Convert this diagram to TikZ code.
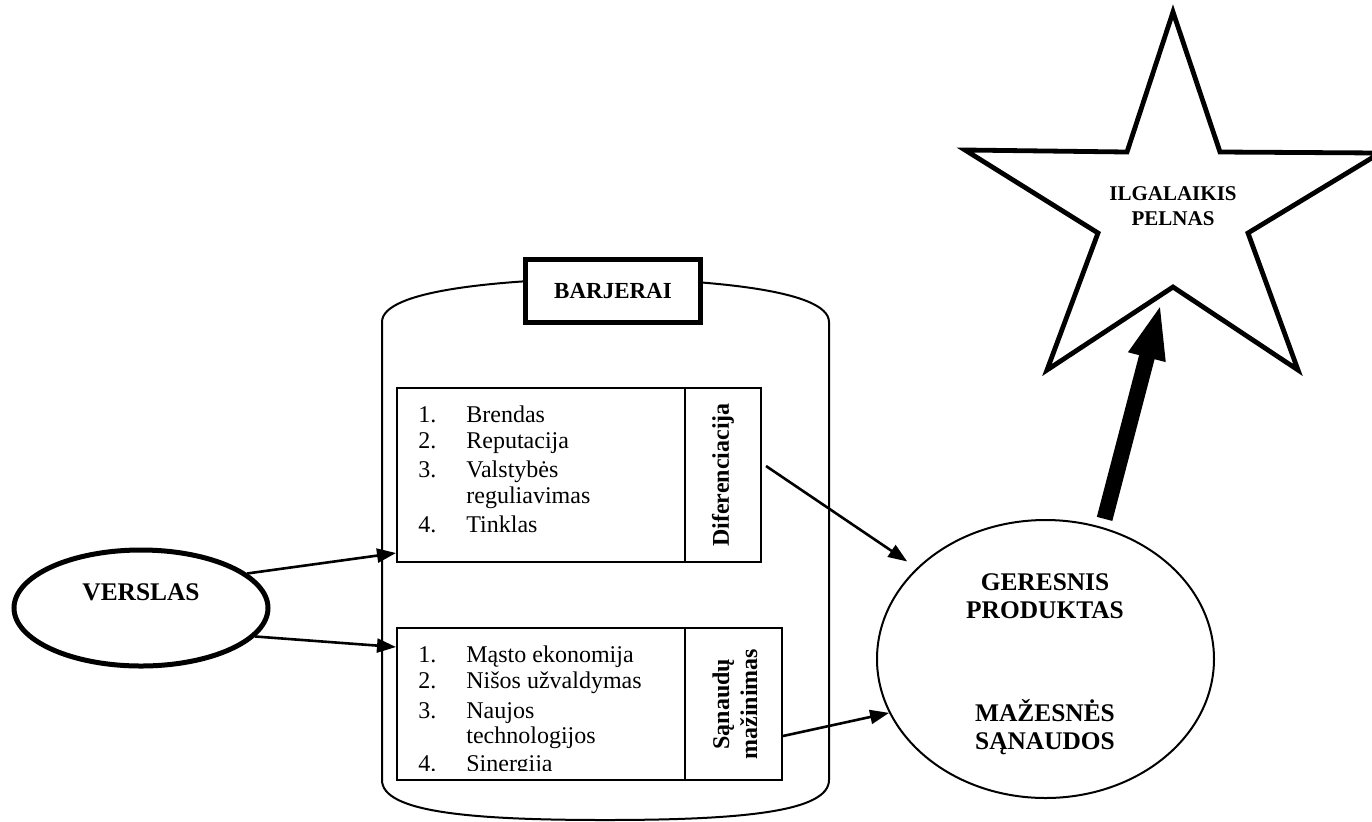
\documentclass[tikz,border=0pt]{standalone}
\usepackage{fontspec}
\setmainfont{Liberation Serif}
\usetikzlibrary{arrows.meta,shapes.geometric,calc}
\begin{document}
\begin{tikzpicture}[x=0.5pt,y=-0.5pt,
  thinline/.style={line width=1pt},
  arr/.style={line width=1.3pt,-{Triangle[length=9.5pt,width=7pt]}},
  bigarr/.style={line width=8pt,-{Triangle[length=28pt,width=17pt]}},
  item/.style={anchor=base west,inner sep=0pt,font=\fontsize{12}{13.5}\selectfont},
  boxnode/.style={draw,line width=1pt,inner sep=0pt},
  btitle/.style={font=\bfseries\fontsize{12.7}{14}\selectfont,align=center,inner sep=0pt}
]
\useasboundingbox (0,0) rectangle (1372,821);

% barrel
\draw[thinline] (382,780) -- (382,322)
  .. controls (382,290) and (500,280) .. (605,278)
  .. controls (710,280) and (829,290) .. (829,322)
  -- (829,780)
  .. controls (829,812) and (740,820) .. (605,820)
  .. controls (470,820) and (382,812) .. (382,780) -- cycle;

\node[draw,line width=2.3pt,fill=white,minimum width=87.7pt,minimum height=31.7pt,
      font=\bfseries\fontsize{11.5}{13}\selectfont] (barj) at (613,291) {BARJERAI};

% upper box
\node[boxnode,minimum width=144pt,minimum height=87pt] (uplist) at (541,475) {};
\node[boxnode,minimum width=38pt,minimum height=87pt] (dif) at (723,475) {};
\node[rotate=90,font=\bfseries\fontsize{12}{13.5}\selectfont,inner sep=0pt] (diftext) at (723,475) {Diferenciacija};

\node[item] (u1n) at (418,422) {1.};
\node[item] (u1) at (466,422) {Brendas};
\node[item] (u2n) at (418,448) {2.};
\node[item] (u2) at (466,448) {Reputacija};
\node[item] (u3n) at (418,477) {3.};
\node[item] (u3) at (466,477) {Valstybės};
\node[item] (u3b) at (466,503) {reguliavimas};
\node[item] (u4n) at (418,532) {4.};
\node[item] (u4) at (466,532) {Tinklas};

% lower box
\node[boxnode,minimum width=144pt,minimum height=76pt] (lowlist) at (541,704) {};
\node[boxnode,minimum width=48.5pt,minimum height=76pt] (san) at (733.5,704) {};
\node[rotate=90,btitle,font=\bfseries\fontsize{12}{14}\selectfont] (santext) at (735,704) {Sąnaudų\\mažinimas};

\begin{scope}
\clip (397,628) rectangle (685,770);
\node[item] (l1n) at (418,662) {1.};
\node[item] (l1) at (466,662) {Mąsto ekonomija};
\node[item] (l2n) at (418,688) {2.};
\node[item] (l2) at (466,688) {Nišos užvaldymas};
\node[item] (l3n) at (418,718) {3.};
\node[item] (l3) at (466,718) {Naujos};
\node[item] (l3b) at (466,743) {technologijos};
\node[item] (l4n) at (418,771) {4.};
\node[item] (l4) at (466,771) {Sinergija};
\end{scope}

% VERSLAS
\node[draw,ellipse,line width=2.5pt,minimum width=127pt,minimum height=58pt,inner sep=0pt] (vers) at (141,608) {};
\node[btitle] (verst) at (141,592) {VERSLAS};

% big ellipse
\node[draw,ellipse,line width=1pt,minimum width=168.5pt,minimum height=139pt,inner sep=0pt] (prod) at (1045.5,659) {};
\node[btitle] (prodt1) at (1045,596) {GERESNIS\\PRODUKTAS};
\node[btitle] (prodt2) at (1045,727) {MAŽESNĖS\\SĄNAUDOS};

% star
\draw[line width=2.4pt,line join=miter,fill=white] (1173,12) -- (1220,152) -- (1380,153) -- (1248,233)
  -- (1298,370) -- (1173,287) -- (1047,370) -- (1098,233) -- (965,150) -- (1127,152) -- cycle;
\node[btitle,font=\bfseries\fontsize{10.5}{12.5}\selectfont] (star) at (1173,206) {ILGALAIKIS\\PELNAS};
\coordinate (startip) at (1161,303);

% connectors
\draw[arr] (vers.18) -- ($(uplist.south west)+(0,-10)$);
\draw[arr] (vers.-14) -- ($(lowlist.north west)+(0,20)$);
\draw[arr] ($(dif.east)+(4,-9)$) -- ($(prod.145)+(-9,-7)$);
\draw[arr] ($(san.east)+(0,32)$) -- (prod.199);
\draw[bigarr] ($(prod.67)+(3,-8)$) -- (startip);
\end{tikzpicture}
\end{document}
